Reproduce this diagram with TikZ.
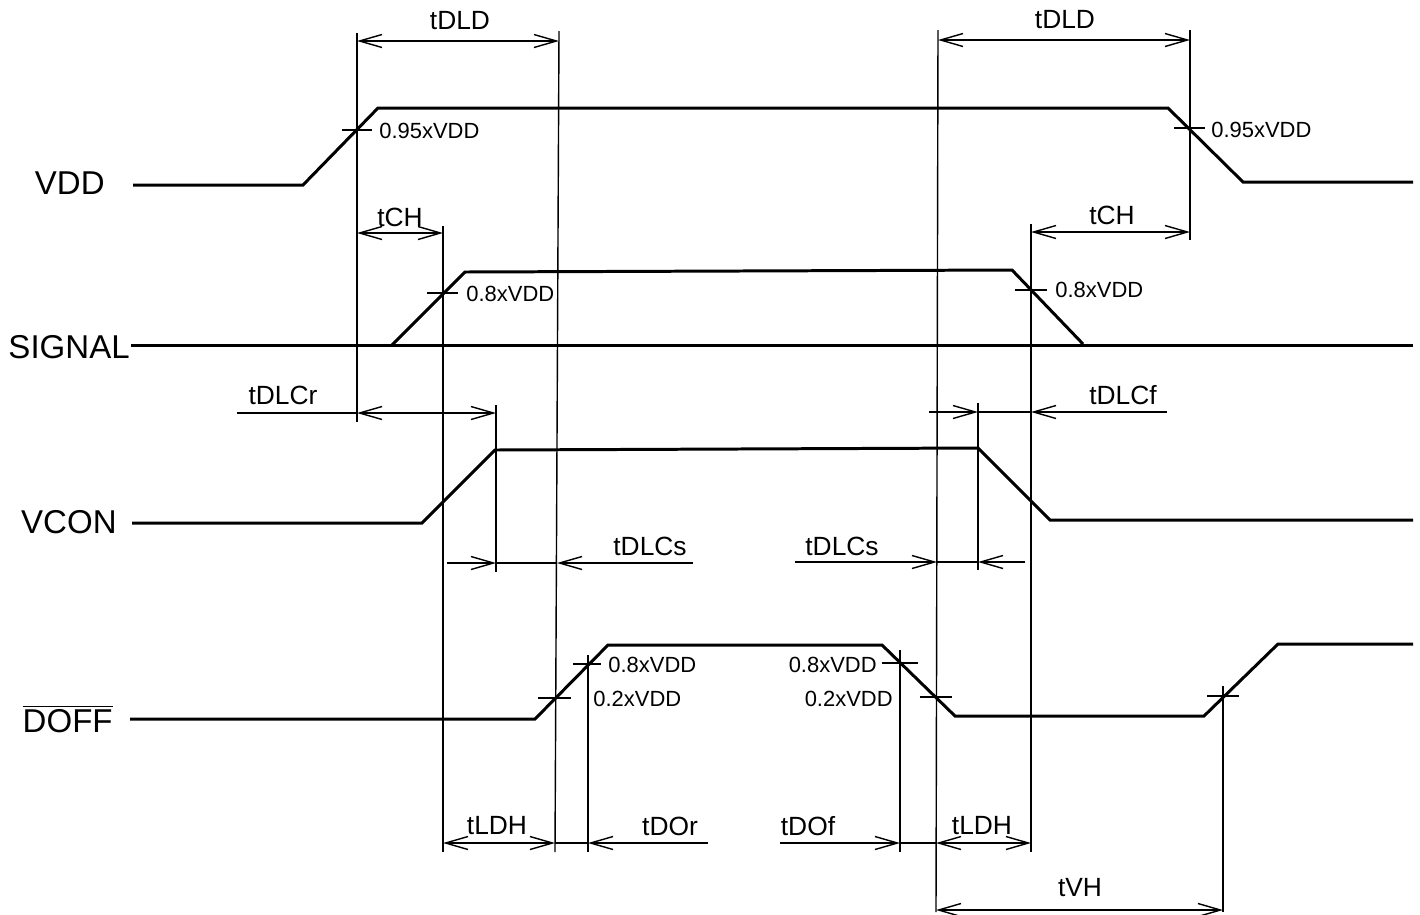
\documentclass[tikz,border=0pt]{standalone}
\usepackage{fontspec}
\setmainfont{Liberation Sans}
\usetikzlibrary{arrows.meta}
\tikzstyle{wave} = [line width=1.7pt, line join=miter]
\tikzstyle{guide} = [line width=0.8pt]
\tikzstyle{dim} = [line width=0.8pt, {Straight Barb[length=4.5mm, width=2.6mm]}-{Straight Barb[length=4.5mm, width=2.6mm]}]
\tikzstyle{leadr} = [line width=0.8pt, -{Straight Barb[length=4.5mm, width=2.6mm]}]
\tikzstyle{signame} = [anchor=east, inner sep=0pt, font=\fontsize{18.8}{22}\selectfont]
\tikzstyle{level} = [inner sep=0pt, font=\fontsize{12.5}{15}\selectfont]
\tikzstyle{timing} = [inner sep=0pt, font=\fontsize{15}{18}\selectfont]

\begin{document}
\begin{tikzpicture}[x=0.02cm, y=-0.02cm]
        \useasboundingbox (0,0) rectangle (1420,914);

        % signal names
        \node [signame] at (105,183) (vdd) {VDD};
        \node [signame] at (130,347) (signal) {SIGNAL};
        \node [signame] at (117,522) (vcon) {VCON};
        \node [signame] at (113,719) (doff) {$\overline{\mbox{DOFF}}$};

        % waveforms
        \draw [wave] (133,185) -- (303,185) -- (378,108) -- (1168,108) -- (1243,182) -- (1413,182);
        \draw [wave] (131,345) -- (1413,345);
        \draw [wave] (392,345) -- (465,272) -- (1012,270) -- (1083,344);
        \draw [wave] (132,523) -- (422,523) -- (495,450) -- (978,448) -- (1050,520) -- (1413,520);
        \draw [wave] (130,719) -- (535,719) -- (608,645) -- (882,645) -- (955,716) -- (1204,716) -- (1278,644) -- (1413,644);

        % marker lines
        \draw [guide] (357,33) -- (357,422);
        \draw [guide] (443,226) -- (443,852);
        \draw [guide] (496,405) -- (496,572);
        \draw [guide] (559,31) -- (555,852);
        \draw [guide] (588,655) -- (588,852);
        \draw [guide] (900,650) -- (900,852);
        \draw [guide] (938,30) -- (936,912);
        \draw [guide] (978,403) -- (978,570);
        \draw [guide] (1031,224) -- (1031,852);
        \draw [guide] (1190,30) -- (1190,240);
        \draw [guide] (1223,686) -- (1223,912);

        % crossing ticks
        \draw [guide] (342,130) -- (372,130);
        \draw [guide] (1174,128) -- (1205,128);
        \draw [guide] (427,293) -- (458,293);
        \draw [guide] (1015,290) -- (1047,290);
        \draw [guide] (538,698) -- (571,698);
        \draw [guide] (573,664) -- (601,664);
        \draw [guide] (882,663) -- (918,663);
        \draw [guide] (920,697) -- (952,697);
        \draw [guide] (1207,696) -- (1239,696);

        % level labels
        \node [level, anchor=west] at (379,131) (l95a) {0.95xVDD};
        \node [level, anchor=west] at (1211,130) (l95b) {0.95xVDD};
        \node [level, anchor=west] at (466,294) (l8a) {0.8xVDD};
        \node [level, anchor=west] at (1055,290) (l8b) {0.8xVDD};
        \node [level, anchor=west] at (608,665) (l8c) {0.8xVDD};
        \node [level, anchor=west] at (593,699) (l2c) {0.2xVDD};
        \node [level, anchor=east] at (877,665) (l8d) {0.8xVDD};
        \node [level, anchor=east] at (893,699) (l2d) {0.2xVDD};

        % timing arrows
        \draw [dim] (357,41) -- (559,41);
        \node [timing] at (460,21) (tdlda) {tDLD};
        \draw [dim] (938,40) -- (1190,40);
        \node [timing] at (1065,20) (tdldb) {tDLD};

        \draw [dim] (357,233) -- (443,233);
        \node [timing] at (400,217) (tcha) {tCH};
        \draw [dim] (1031,232) -- (1190,232);
        \node [timing] at (1112,215) (tchb) {tCH};

        \draw [guide] (237,413) -- (357,413);
        \draw [dim] (357,413) -- (496,413);
        \node [timing] at (283,395) (tdlcr) {tDLCr};

        \draw [leadr] (929,412) -- (978,412);
        \draw [guide] (978,412) -- (1031,412);
        \draw [leadr] (1167,412) -- (1031,412);
        \node [timing] at (1123,395) (tdlcf) {tDLCf};

        \draw [leadr] (447,563) -- (496,563);
        \draw [guide] (496,563) -- (557,563);
        \draw [leadr] (693,563) -- (557,563);
        \node [timing] at (650,546) (tdlcsa) {tDLCs};

        \draw [leadr] (795,562) -- (937,562);
        \draw [guide] (937,562) -- (978,562);
        \draw [leadr] (1025,562) -- (978,562);
        \node [timing] at (842,546) (tdlcsb) {tDLCs};

        \draw [dim] (443,843) -- (555,843);
        \node [timing] at (497,826) (tldha) {tLDH};
        \draw [guide] (555,843) -- (588,843);
        \draw [leadr] (708,843) -- (588,843);
        \node [timing] at (670,826) (tdor) {tDOr};
        \draw [leadr] (780,843) -- (900,843);
        \draw [guide] (900,843) -- (936,843);
        \node [timing] at (808,826) (tdof) {tDOf};
        \draw [dim] (936,843) -- (1031,843);
        \node [timing] at (982,826) (tldhb) {tLDH};

        \draw [dim] (936,910) -- (1223,910);
        \node [timing] at (1080,888) (tvh) {tVH};
    \end{tikzpicture}
\end{document}
